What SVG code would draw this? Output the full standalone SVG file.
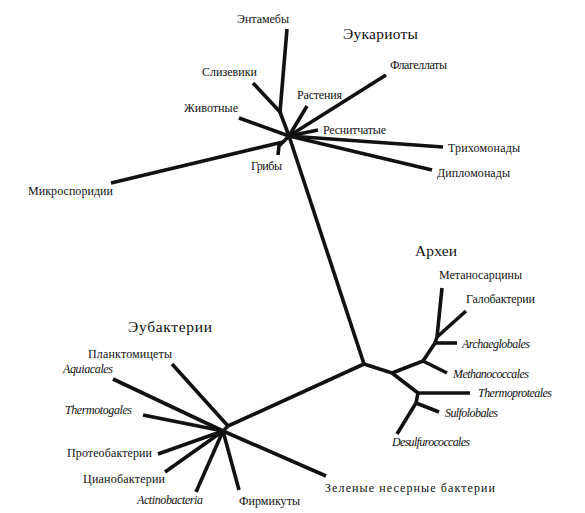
<svg xmlns="http://www.w3.org/2000/svg" width="585" height="513" viewBox="0 0 585 513">
<style>
.e{fill:none;stroke:#111;stroke-width:3.6;stroke-linecap:butt;stroke-linejoin:round}
text{font-family:'Liberation Serif','DejaVu Serif',serif;font-size:12px;fill:#111}
.h{font-size:15.5px}
.i{font-style:italic}
</style>
<rect width="585" height="513" fill="#fff"/>
<g id="connectors">
<polyline class="e" points="287,29 280,112 289,136"/>
<line class="e" x1="253" y1="83" x2="281" y2="113"/>
<line class="e" x1="239" y1="118" x2="289" y2="136"/>
<line class="e" x1="307" y1="106" x2="289" y2="136"/>
<line class="e" x1="386" y1="75" x2="289" y2="136"/>
<line class="e" x1="318" y1="130" x2="289" y2="136"/>
<line class="e" x1="289" y1="136" x2="443" y2="147"/>
<line class="e" x1="289" y1="136" x2="432" y2="170"/>
<polyline class="e" points="111,183 283,142 289,136"/>
<polyline class="e" points="278,155 279,146 283,142"/>
<line class="e" x1="289" y1="136" x2="364" y2="364"/>
<line class="e" x1="364" y1="364" x2="392" y2="373"/>
<line class="e" x1="392" y1="373" x2="423" y2="361"/>
<line class="e" x1="423" y1="361" x2="447" y2="373"/>
<line class="e" x1="423" y1="361" x2="435" y2="343"/>
<line class="e" x1="435" y1="343" x2="457" y2="343"/>
<polyline class="e" points="442,288 437,337 435,343"/>
<line class="e" x1="466" y1="311" x2="437" y2="337"/>
<line class="e" x1="392" y1="373" x2="418" y2="393"/>
<line class="e" x1="418" y1="393" x2="470" y2="393"/>
<line class="e" x1="418" y1="393" x2="416" y2="403"/>
<line class="e" x1="416" y1="403" x2="439" y2="412"/>
<line class="e" x1="416" y1="403" x2="397" y2="434"/>
<line class="e" x1="364" y1="364" x2="228" y2="426"/>
<line class="e" x1="172" y1="364" x2="228" y2="426"/>
<line class="e" x1="228" y1="426" x2="223" y2="431"/>
<line class="e" x1="113" y1="379" x2="223" y2="431"/>
<line class="e" x1="143" y1="415" x2="223" y2="431"/>
<line class="e" x1="158" y1="454" x2="223" y2="431"/>
<line class="e" x1="165" y1="472" x2="223" y2="431"/>
<line class="e" x1="196" y1="492" x2="223" y2="431"/>
<line class="e" x1="239" y1="490" x2="223" y2="431"/>
<line class="e" x1="326" y1="476" x2="223" y2="431"/>
</g>
<g id="eukaryotes"><text class="h" x="343" y="39" textLength="75">Эукариоты</text></g>
<g id="entamoebae"><text x="237" y="23" textLength="52">Энтамебы</text></g>
<g id="slime"><text x="202" y="76" textLength="55">Слизевики</text></g>
<g id="plants"><text x="297" y="99" textLength="45">Растения</text></g>
<g id="animals"><text x="184" y="112" textLength="54">Животные</text></g>
<g id="ciliates"><text x="323" y="134" textLength="63">Реснитчатые</text></g>
<g id="flagellates"><text x="390" y="69" textLength="57">Флагеллаты</text></g>
<g id="trichomonads"><text x="448" y="152" textLength="72">Трихомонады</text></g>
<g id="diplomonads"><text x="437" y="177" textLength="73">Дипломонады</text></g>
<g id="fungi"><text x="251" y="170" textLength="31">Грибы</text></g>
<g id="microsporidia"><text x="28" y="195" textLength="85">Микроспоридии</text></g>
<g id="archaea"><text class="h" x="415" y="256" textLength="42">Археи</text></g>
<g id="methanosarcina"><text x="439" y="279" textLength="83">Метаносарцины</text></g>
<g id="halobacteria"><text x="466" y="303" textLength="69">Галобактерии</text></g>
<g id="archaeglobales"><text class="i" x="462" y="348" textLength="68">Archaeglobales</text></g>
<g id="methanococcales"><text class="i" x="453" y="378" textLength="76">Methanococcales</text></g>
<g id="thermoproteales"><text class="i" x="478" y="397" textLength="74">Thermoproteales</text></g>
<g id="sulfolobales"><text class="i" x="445" y="417" textLength="53">Sulfolobales</text></g>
<g id="desulfurococcales"><text class="i" x="392" y="446" textLength="78">Desulfurococcales</text></g>
<g id="eubacteria"><text class="h" x="128" y="332" textLength="84">Эубактерии</text></g>
<g id="planctomycetes"><text x="88" y="358" textLength="84">Планктомицеты</text></g>
<g id="aquificales"><text class="i" x="63" y="373" textLength="50">Aquiacales</text></g>
<g id="thermotogales"><text class="i" x="65" y="414" textLength="67">Thermotogales</text></g>
<g id="proteobacteria"><text x="67" y="457" textLength="85">Протеобактерии</text></g>
<g id="cyanobacteria"><text x="83" y="483" textLength="82">Цианобактерии</text></g>
<g id="actinobacteria"><text class="i" x="137" y="504" textLength="66">Actinobacteria</text></g>
<g id="firmicutes"><text x="239" y="505" textLength="61">Фирмикуты</text></g>
<g id="greennonsulfur"><text x="325" y="492" textLength="170">Зеленые несерные бактерии</text></g>
</svg>
